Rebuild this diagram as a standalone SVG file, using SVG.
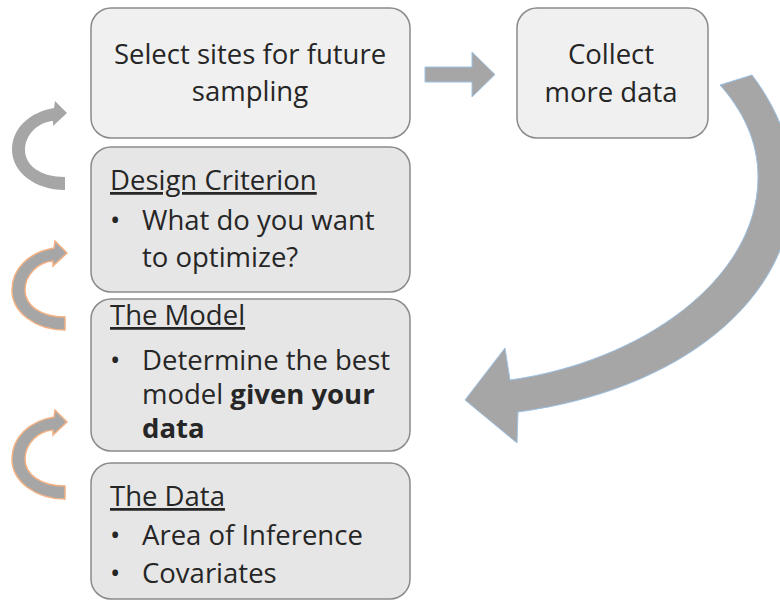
<svg xmlns="http://www.w3.org/2000/svg" xmlns:xlink="http://www.w3.org/1999/xlink" width="780" height="602" viewBox="0 0 780 602">
<defs>
<style>
.box{stroke:#8a8a8a;stroke-width:1.5}
.light{fill:#f0f0f0}
.mid{fill:#e6e6e6}
text{font-family:"Open Sans","Noto Sans",sans-serif;font-size:27.5px;fill:#262626}
.c{text-anchor:middle}
.u{text-decoration:underline}
.b{font-weight:bold}
.arr{fill:#a6a6a6;stroke:#9cc2e5;stroke-width:1}
.carr{fill:#a6a6a6}
.orange{stroke:#f4b183;stroke-width:1.5}
</style>
<path id="cshape" d="M67,253 L55,241 L54,248 C30,252 12,268 12,290 C12,312 35,330 65,330 L65,317 C40,317 25,305 25,290 C25,275 38,262 53,261 L53,266 Z"/>
</defs>

<g id="connectors">
<path class="arr" d="M425,67 L472,67 L472,52 L495,74.5 L472,97 L472,82 L425,82 Z"/>
<path class="arr" d="M752,75 C775,105 793,145 793,185 C793,300 680,390 518,412 L517,443 L465,400 L505,348 L510,380 C640,362 758,280 758,177 C758,140 742,110 720,85 Z"/>
<use xlink:href="#cshape" class="carr" transform="translate(0,-140)"/>
<use xlink:href="#cshape" class="carr orange"/>
<use xlink:href="#cshape" class="carr orange" transform="translate(0,169)"/>
</g>

<g id="select">
<rect class="box light" x="91" y="8" width="319" height="130" rx="20"/>
<text class="c" x="250" y="64">Select sites for future</text>
<text class="c" x="250" y="101">sampling</text>
</g>

<g id="collect">
<rect class="box light" x="517" y="8" width="191" height="130" rx="20"/>
<text class="c" x="611" y="64">Collect</text>
<text class="c" x="611" y="102">more data</text>
</g>

<g id="criterion">
<rect class="box mid" x="91" y="147" width="319" height="145" rx="20"/>
<text class="u" x="110" y="190">Design Criterion</text>
<text x="110" y="230">•</text>
<text x="142" y="230">What do you want</text>
<text x="142" y="267">to optimize?</text>
</g>

<g id="model">
<rect class="box mid" x="91" y="299" width="319" height="152" rx="20"/>
<text class="u" x="110" y="325">The Model</text>
<text x="110" y="370">•</text>
<text x="142" y="370">Determine the best</text>
<text x="142" y="404">model <tspan class="b">given your</tspan></text>
<text class="b" x="142" y="438">data</text>
</g>

<g id="data">
<rect class="box mid" x="91" y="463" width="319" height="136" rx="20"/>
<text class="u" x="110" y="506">The Data</text>
<text x="110" y="545">•</text>
<text x="142" y="545">Area of Inference</text>
<text x="110" y="583">•</text>
<text x="142" y="583">Covariates</text>
</g>
</svg>
